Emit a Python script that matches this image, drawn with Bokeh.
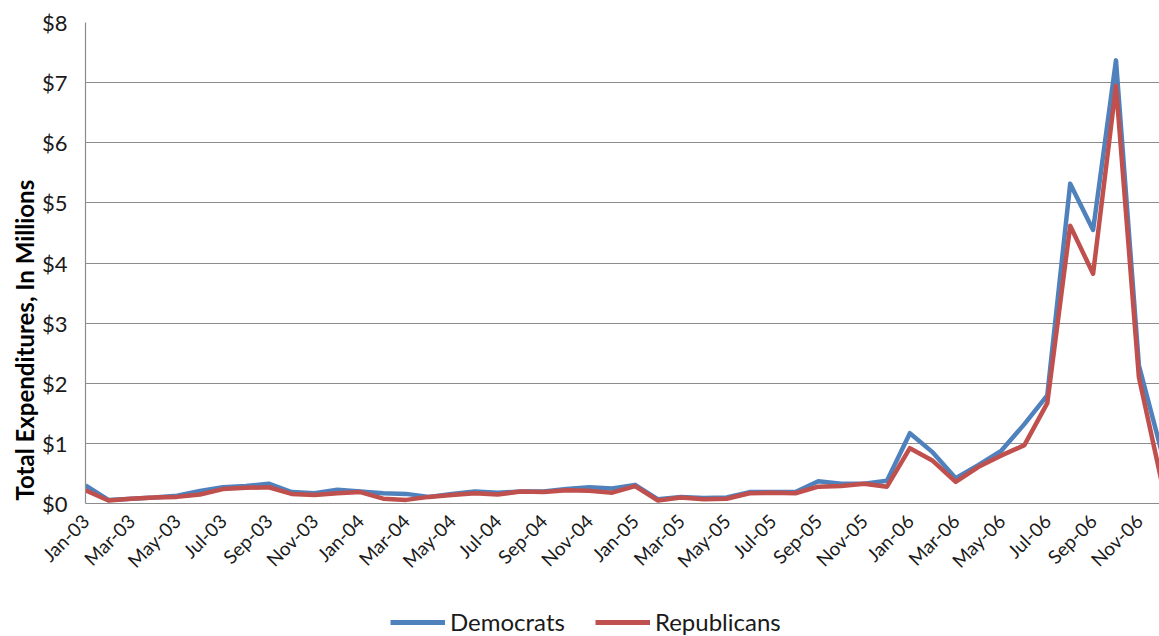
import math
from bokeh.plotting import figure
from bokeh.layouts import column
from bokeh.models import FixedTicker, Legend, LegendItem, Title, Range1d
from bokeh.embed import file_html
from bokeh.resources import INLINE

months = ["Jan", "Feb", "Mar", "Apr", "May", "Jun", "Jul", "Aug", "Sep", "Oct", "Nov", "Dec"]
years = ["03", "04", "05", "06"]
month_labels = [f"{m}-{y}" for y in years for m in months]

democrats = [0.30, 0.06, 0.08, 0.10, 0.13, 0.21, 0.27, 0.29, 0.33, 0.19, 0.17, 0.23,
             0.20, 0.17, 0.16, 0.11, 0.16, 0.20, 0.18, 0.20, 0.20, 0.24, 0.27, 0.25,
             0.31, 0.07, 0.11, 0.09, 0.10, 0.19, 0.19, 0.19, 0.37, 0.33, 0.33, 0.38,
             1.17, 0.85, 0.42, 0.64, 0.88, 1.32, 1.80, 5.32, 4.55, 7.37, 2.30, 0.85]
republicans = [0.22, 0.05, 0.08, 0.10, 0.11, 0.15, 0.24, 0.26, 0.27, 0.16, 0.14, 0.17,
               0.19, 0.08, 0.06, 0.11, 0.14, 0.17, 0.15, 0.20, 0.19, 0.22, 0.21, 0.18,
               0.29, 0.05, 0.10, 0.07, 0.08, 0.17, 0.18, 0.17, 0.28, 0.29, 0.33, 0.28,
               0.92, 0.71, 0.36, 0.61, 0.80, 0.97, 1.67, 4.62, 3.82, 6.95, 2.10, 0.35]
y_ticks = [0, 1, 2, 3, 4, 5, 6, 7, 8]
series_names = ["Democrats", "Republicans"]
series_colors = ["#4F81BD", "#C0504D"]

x = list(range(len(month_labels)))
FONT = "Lato"

p = figure(width=1159, height=600, output_backend="svg", toolbar_location=None,
           x_range=Range1d(0, 46.9), y_range=Range1d(0, 8),
           min_border_left=85, min_border_top=22, min_border_bottom=97, min_border_right=0)
p.outline_line_color = None
p.background_fill_color = "white"

p.line(x, democrats, line_color=series_colors[0], line_width=4.5, line_join="round")
p.line(x, republicans, line_color=series_colors[1], line_width=4.5, line_join="round")

p.xgrid.grid_line_color = None
p.ygrid.grid_line_color = "#8C8C8C"
p.ygrid.grid_line_width = 1.2

p.yaxis.ticker = FixedTicker(ticks=y_ticks)
p.yaxis.major_label_overrides = {t: f"${t}" for t in y_ticks}
p.yaxis.major_label_text_font = FONT
p.yaxis.major_label_text_font_size = "22px"
p.yaxis.major_label_text_color = "#1a1a1a"
p.yaxis.major_tick_line_color = None
p.yaxis.minor_tick_line_color = None
p.yaxis.axis_line_color = "#8C8C8C"
p.yaxis.axis_line_width = 1.2
p.yaxis.major_label_standoff = 12

p.xaxis.ticker = FixedTicker(ticks=list(range(0, 48, 2)))
p.xaxis.major_label_overrides = {i: month_labels[i] for i in range(0, 48, 2)}
p.xaxis.major_label_orientation = math.pi / 4
p.xaxis.major_label_text_font = FONT
p.xaxis.major_label_text_font_size = "19px"
p.xaxis.major_label_text_color = "#1a1a1a"
p.xaxis.major_tick_line_color = None
p.xaxis.minor_tick_line_color = None
p.xaxis.axis_line_color = "#8C8C8C"
p.xaxis.axis_line_width = 1.2
p.xaxis.major_label_standoff = 8

ytitle = Title(text="Total Expenditures, In Millions", align="left", offset=3,
               text_font=FONT, text_font_size="24px", text_font_style="bold",
               text_color="#000000", standoff=0)
p.add_layout(ytitle, "left")

# legend strip below the chart
lg = figure(width=1159, height=36, output_backend="svg", toolbar_location=None,
            x_range=Range1d(0, 1), y_range=Range1d(0, 1),
            x_axis_location=None, y_axis_location=None,
            min_border_left=85, min_border_right=0, min_border_top=0, min_border_bottom=0)
lg.outline_line_color = None
lg.xgrid.grid_line_color = None
lg.ygrid.grid_line_color = None
items = []
for name, col in zip(series_names, series_colors):
    r = lg.line([-10, -9], [-10, -10], line_color=col, line_width=5)
    items.append(LegendItem(label=name, renderers=[r]))
legend = Legend(items=items, orientation="horizontal", location=(305, 0),
                label_text_font=FONT, label_text_font_size="24px",
                label_text_color="#1a1a1a", glyph_width=55, glyph_height=24,
                spacing=30, padding=0, margin=0, border_line_color=None,
                background_fill_alpha=0, label_standoff=5)
lg.add_layout(legend)

open("out.html", "w").write(file_html(column(p, lg, spacing=0), INLINE))
